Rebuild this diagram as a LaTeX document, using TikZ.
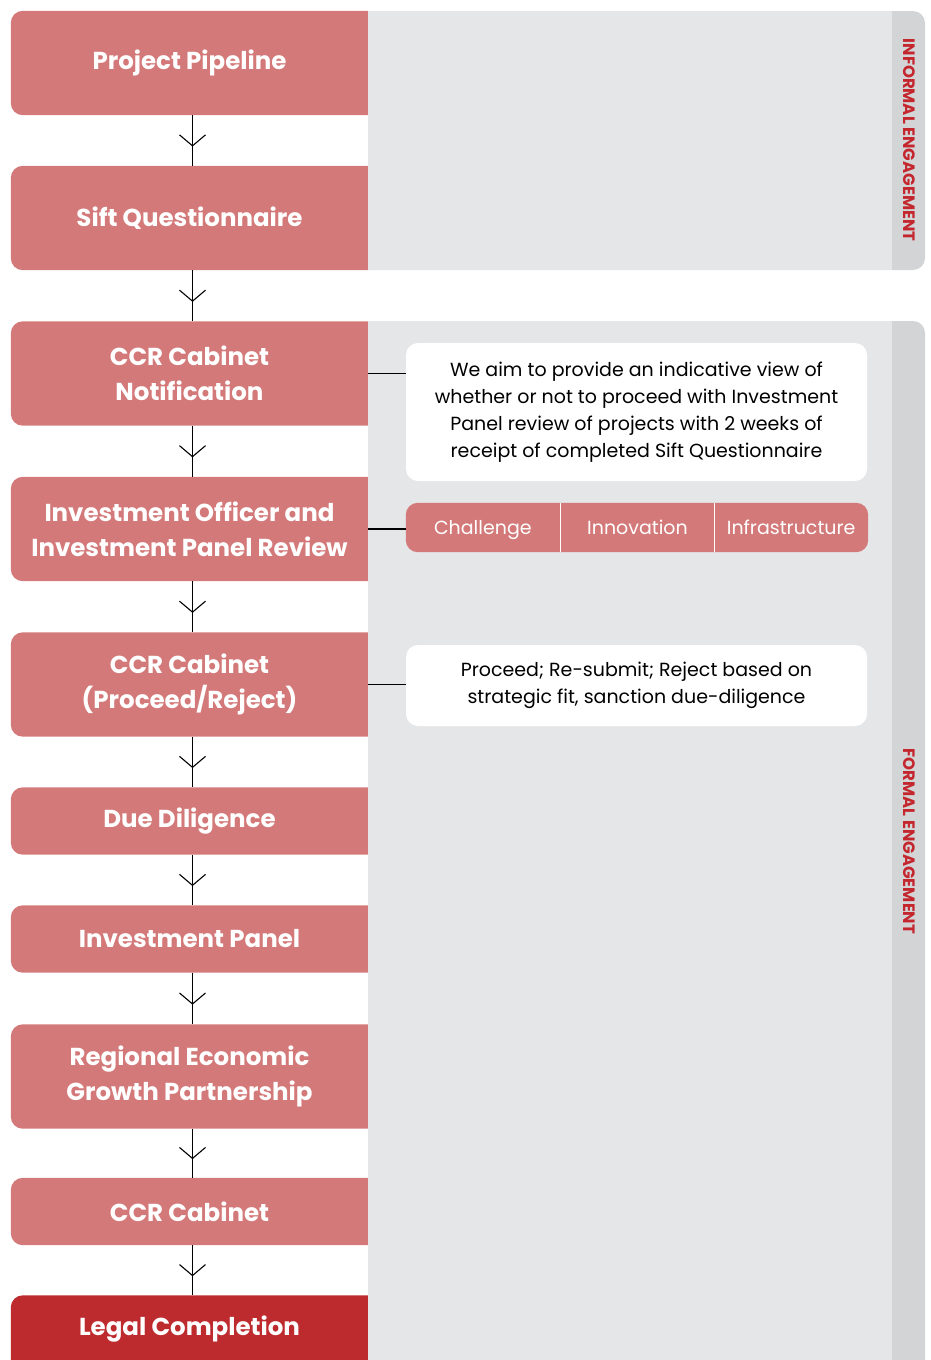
\documentclass[tikz,border=0pt]{standalone}
\usepackage{fontspec}
\setmainfont{Poppins}
\usetikzlibrary{arrows.meta,decorations.markings,backgrounds}

\definecolor{stepc}{HTML}{D47979}
\definecolor{finalc}{HTML}{BE2B2F}
\definecolor{panelc}{HTML}{E5E6E8}
\definecolor{bandc}{HTML}{D3D4D6}
\definecolor{labelc}{HTML}{C4262E}

\tikzset{
  stepbox/.style={minimum width=357pt, minimum height=104pt, inner sep=0pt,
    text=white, align=center, font=\fontsize{24.5}{35}\selectfont\bfseries},
  shortbox/.style={stepbox, minimum height=67pt},
  notebox/.style={fill=white, rounded corners=12pt, minimum width=461pt,
    inner sep=0pt, align=center, font=\fontsize{19}{27}\selectfont},
  tabbox/.style={minimum width=153.7pt, minimum height=49pt, inner sep=0pt,
    text height=18pt, text depth=4pt,
    text=white, font=\fontsize{19}{20}\selectfont},
  flow/.style={line width=1.1pt, postaction={decorate},
    decoration={markings, mark=at position 0.62 with
      {\arrow{Straight Barb[length=11pt,width=26pt,line width=1.1pt]}}}},
  side/.style={line width=1.1pt},
  stage/.style={text=labelc, rotate=-90, font=\fontsize{16.5}{17}\selectfont\bfseries}
}

\begin{document}
\begin{tikzpicture}[x=1pt,y=-1pt]
  \useasboundingbox (0,0) rectangle (930,1360);

  % steps
  \node[stepbox] (pipe) at (189.5,63) {Project Pipeline};
  \node[stepbox] (sift) at (189.5,218) {Sift Questionnaire};
  \node[stepbox] (notif) at (189.5,373.5) {CCR Cabinet\\Notification};
  \node[stepbox] (review) at (189.5,529) {Investment Officer and\\Investment Panel Review};
  \node[stepbox] (cabpr) at (189.5,684.5) {CCR Cabinet\\(Proceed/Reject)};
  \node[shortbox] (dd) at (189.5,821) {Due Diligence};
  \node[shortbox] (invp) at (189.5,939) {Investment Panel};
  \node[stepbox] (regp) at (189.5,1076.5) {Regional Economic\\Growth Partnership};
  \node[shortbox] (cab) at (189.5,1211.5) {CCR Cabinet};
  \node[shortbox] (legal) at (189.5,1329) {Legal Completion};

  % notes and tabs
  \node[notebox, minimum height=138pt] (aim) at (636.5,412)
    {We aim to provide an indicative view of\\whether or not to proceed with Investment\\Panel review of projects with 2 weeks of\\receipt of completed Sift Questionnaire};
  \node[tabbox] (chal) at (482.85,527.5) {Challenge};
  \node[tabbox] (innov) at (637.5,527.5) {Innovation};
  \node[tabbox] (infra) at (791.15,527.5) {Infrastructure};
  \node[notebox, minimum height=81pt] (decide) at (636.5,685.5)
    {Proceed; Re-submit; Reject based on\\strategic fit, sanction due-diligence};

  % side labels
  \node[stage] (informal) at (909,140) {INFORMAL ENGAGEMENT};
  \node[stage] (formal) at (909,841.5) {FORMAL ENGAGEMENT};

  \begin{scope}[on background layer]
    \begin{scope}
      \clip (0,0) rectangle (368,1400);
      \foreach \n in {pipe,sift,notif,review,cabpr,dd,invp,regp,cab}
        \fill[stepc, rounded corners=12pt] (\n.south west) rectangle ([xshift=20pt]\n.north east);
      \fill[finalc, rounded corners=12pt] ([yshift=-20pt]legal.south west) rectangle ([xshift=20pt]legal.north east);
    \end{scope}
    \begin{scope}
      \clip (368,0) rectangle (930,1400);
      \fill[bandc, rounded corners=12pt] (340,11) rectangle (925,270);
      \fill[panelc] (340,11) rectangle (892,270);
      \fill[bandc, rounded corners=12pt] (340,321) rectangle (925,1400);
      \fill[panelc] (340,321) rectangle (892,1400);
    \end{scope}
    \fill[stepc, rounded corners=12pt] (chal.north west) rectangle (infra.south east);
    \fill[white] (chal.north east) rectangle (innov.south west);
    \fill[white] (innov.north east) rectangle (infra.south west);
  \end{scope}

  % connectors
  \foreach \a/\b in {pipe/sift,sift/notif,notif/review,review/cabpr,cabpr/dd,
                     dd/invp,invp/regp,regp/cab,cab/legal}
    \draw[flow] ([xshift=3pt]\a.south) -- ([xshift=3pt]\b.north);
  \draw[side] (notif.east) -- (notif.east -| aim.west);
  \draw[side] (review.east) -- (review.east -| chal.west);
  \draw[side] (cabpr.east) -- (cabpr.east -| decide.west);
\end{tikzpicture}
\end{document}
